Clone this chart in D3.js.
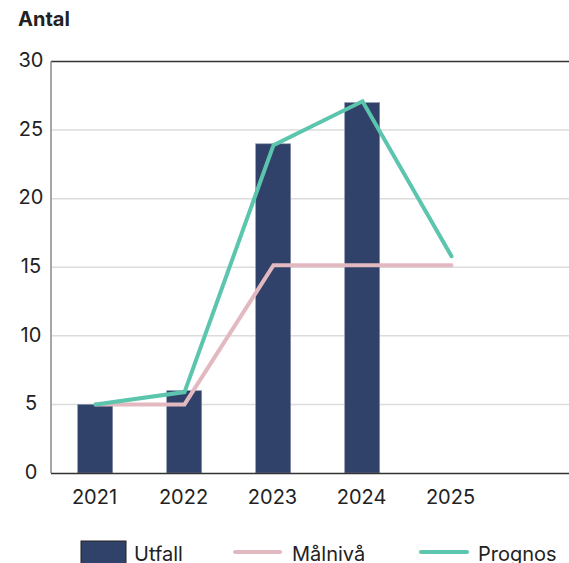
<!DOCTYPE html>
<html>
  <head>
    <meta charset="utf-8">
    <title>Antal</title>
    <style>
      body { margin: 0; background: #fff; }
      text { font-family: Inter, "Noto Sans", sans-serif; fill: #222; }
      .grid line { stroke: #dcdcdc; stroke-width: 1.5; }
    </style>
  </head>
  <body>
    <div id="chart"></div>
    <script src="https://d3js.org/d3.v7.min.js"></script>
    <script>
      var years = ['2021', '2022', '2023', '2024', '2025'];
      var utfall = [5, 6, 24, 27, null];
      var malniva = [5, 5, 15.15, 15.15, 15.15];
      var prognos = [5, 5.9, 23.9, 27.1, 15.8];
      var yTicks = [0, 5, 10, 15, 20, 25, 30];

      var width = 569, height = 563;
      var plotLeft = 51, plotRight = 569, plotTop = 61.5, plotBottom = 473;

      var svg = d3.select('#chart').append('svg')
        .attr('width', width)
        .attr('height', height);

      var x = d3.scaleBand()
        .domain(years)
        .range([plotLeft, plotLeft + 445])
        .paddingInner(0.6)
        .paddingOuter(0.3);

      var y = d3.scaleLinear().domain([0, 30]).range([plotBottom, plotTop]);

      // gridlines
      svg.append('g').attr('class', 'grid')
        .selectAll('line')
        .data(yTicks.filter(function(d) { return d > 0 && d < 30; }))
        .enter().append('line')
        .attr('x1', plotLeft).attr('x2', plotRight)
        .attr('y1', function(d) { return y(d); })
        .attr('y2', function(d) { return y(d); });

      svg.append('line')
        .attr('x1', plotLeft).attr('x2', plotRight)
        .attr('y1', y(30)).attr('y2', y(30))
        .attr('stroke', '#333').attr('stroke-width', 1.5);

      // y labels
      svg.append('g').selectAll('text')
        .data(yTicks)
        .enter().append('text')
        .attr('x', 31)
        .attr('y', function(d) { return y(d) - 1.5; })
        .attr('dy', '0.36em')
        .attr('text-anchor', 'middle')
        .attr('font-size', 20)
        .text(function(d) { return d; });

      // bars
      svg.append('g').selectAll('rect')
        .data(years.map(function(d, i) { return { year: d, v: utfall[i] }; })
          .filter(function(d) { return d.v != null; }))
        .enter().append('rect')
        .attr('x', function(d) { return x(d.year); })
        .attr('width', x.bandwidth() - 0.6)
        .attr('y', function(d) { return y(d.v); })
        .attr('height', function(d) { return plotBottom - y(d.v); })
        .attr('fill', '#304269')
        .attr('stroke', '#8a93ab')
        .attr('stroke-width', 0.6);

      // axes lines
      svg.append('line')
        .attr('x1', plotLeft).attr('x2', plotLeft)
        .attr('y1', plotTop).attr('y2', plotBottom)
        .attr('stroke', '#888').attr('stroke-width', 1.5);
      svg.append('line')
        .attr('x1', plotLeft).attr('x2', plotRight)
        .attr('y1', plotBottom + 0.5).attr('y2', plotBottom + 0.5)
        .attr('stroke', '#333').attr('stroke-width', 1.5);

      var line = d3.line()
        .x(function(d, i) { return x(years[i]) + x.bandwidth() / 2; })
        .y(function(d) { return y(d); });

      svg.append('path')
        .attr('d', line(malniva))
        .attr('fill', 'none')
        .attr('stroke', '#e3b9c1')
        .attr('stroke-width', 4)
        .attr('stroke-linecap', 'round');

      svg.append('path')
        .attr('d', line(prognos))
        .attr('fill', 'none')
        .attr('stroke', '#5cc5ad')
        .attr('stroke-width', 4)
        .attr('stroke-linecap', 'round');

      // x labels
      svg.append('g').selectAll('text')
        .data(years)
        .enter().append('text')
        .attr('x', function(d) { return x(d) + x.bandwidth() / 2 - 1; })
        .attr('y', 504)
        .attr('text-anchor', 'middle')
        .attr('font-size', 20)
        .text(function(d) { return d; });

      // title
      svg.append('text')
        .attr('x', 18).attr('y', 26)
        .attr('font-size', 20)
        .attr('font-weight', 'bold')
        .text('Antal');

      // legend
      var lg = svg.append('g');
      lg.append('rect')
        .attr('x', 81).attr('y', 541)
        .attr('width', 45).attr('height', 30)
        .attr('fill', '#304269')
        .attr('stroke', '#222').attr('stroke-width', 1);
      lg.append('text').attr('x', 134).attr('y', 561)
        .attr('font-size', 20).text('Utfall');

      lg.append('line')
        .attr('x1', 235).attr('x2', 280)
        .attr('y1', 552).attr('y2', 552)
        .attr('stroke', '#e3b9c1').attr('stroke-width', 4)
        .attr('stroke-linecap', 'round');
      lg.append('text').attr('x', 292).attr('y', 561)
        .attr('font-size', 20).text('Målnivå');

      lg.append('line')
        .attr('x1', 421).attr('x2', 467)
        .attr('y1', 552).attr('y2', 552)
        .attr('stroke', '#5cc5ad').attr('stroke-width', 4)
        .attr('stroke-linecap', 'round');
      lg.append('text').attr('x', 478).attr('y', 561)
        .attr('font-size', 20).text('Prognos');
    </script>
  </body>
</html>
